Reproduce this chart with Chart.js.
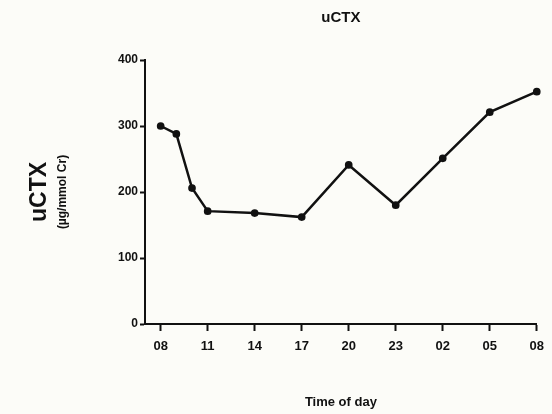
<!DOCTYPE html>
<html>
<head>
<meta charset="utf-8">
<script src="https://cdn.jsdelivr.net/npm/chart.js@4.4.1/dist/chart.umd.min.js"></script>
<style>
  html, body { margin: 0; padding: 0; background: #fcfcf8; }
  #wrap { width: 552px; height: 414px; }
</style>
</head>
<body>
<div id="wrap"><canvas id="ctxChart" width="552" height="414"></canvas></div>
<script>
// hours after 08:00
const hours = [0, 1, 2, 3, 6, 9, 12, 15, 18, 21, 24];
const uctx = [300, 288, 206, 171, 168, 162, 241, 180, 251, 321, 352];
const tickHours = [0, 3, 6, 9, 12, 15, 18, 21, 24];
const tickLabels = ['08', '11', '14', '17', '20', '23', '02', '05', '08'];

const FONT = 'Arial, "Liberation Sans", sans-serif';

// title and two-line y title, drawn relative to the chart area
const textPlugin = {
  id: 'texts',
  afterDraw(chart) {
    const { ctx, chartArea } = chart;
    const cx = (chartArea.left + chartArea.right) / 2;
    const cy = (chartArea.top + chartArea.bottom) / 2;
    ctx.save();
    ctx.fillStyle = '#111';
    ctx.textAlign = 'center';
    ctx.textBaseline = 'middle';
    ctx.font = 'bold 15px ' + FONT;
    ctx.fillText('uCTX', cx, 18);

    ctx.translate(0, cy);
    ctx.rotate(-Math.PI / 2);
    ctx.font = 'bold 23px ' + FONT;
    ctx.fillText('uCTX', 0, 40);
    ctx.font = 'bold 12px ' + FONT;
    ctx.fillText('(µg/mmol Cr)', 0, 63);
    ctx.restore();
  }
};

new Chart(document.getElementById('ctxChart').getContext('2d'), {
  type: 'line',
  data: {
    datasets: [{
      label: 'uCTX',
      data: hours.map((h, i) => ({ x: h, y: uctx[i] })),
      borderColor: '#111',
      backgroundColor: '#111',
      borderWidth: 2.5,
      pointRadius: 2.6,
      pointBackgroundColor: '#111',
      clip: false,
      tension: 0
    }]
  },
  options: {
    responsive: false,
    animation: false,
    layout: { padding: { top: 60, right: 15, left: 0, bottom: 0 } },
    plugins: { legend: { display: false }, tooltip: { enabled: false } },
    scales: {
      x: {
        type: 'linear',
        min: -1,
        max: 24,
        afterBuildTicks(axis) {
          axis.ticks = tickHours.map(v => ({ value: v }));
        },
        afterFit(axis) { axis.height = 90; },
        grid: { drawOnChartArea: false, drawTicks: true, tickLength: 7, tickColor: '#111', tickWidth: 2 },
        border: { color: '#111', width: 2 },
        ticks: {
          color: '#111',
          padding: 8,
          maxRotation: 0,
          autoSkip: false,
          font: { family: FONT, size: 13, weight: 'bold' },
          callback: (v) => tickLabels[tickHours.indexOf(v)]
        },
        title: {
          display: true,
          text: 'Time of day',
          color: '#111',
          padding: { top: 20 },
          font: { family: FONT, size: 13, weight: 'bold' }
        }
      },
      y: {
        min: 0,
        max: 400,
        afterFit(axis) { axis.width = 145; },
        grid: { drawOnChartArea: false, drawTicks: true, tickLength: 5, tickColor: '#111', tickWidth: 2 },
        border: { color: '#111', width: 2 },
        ticks: {
          stepSize: 100,
          color: '#111',
          padding: 2,
          font: { family: FONT, size: 12, weight: 'bold' }
        }
      }
    }
  },
  plugins: [textPlugin]
});
</script>
</body>
</html>
